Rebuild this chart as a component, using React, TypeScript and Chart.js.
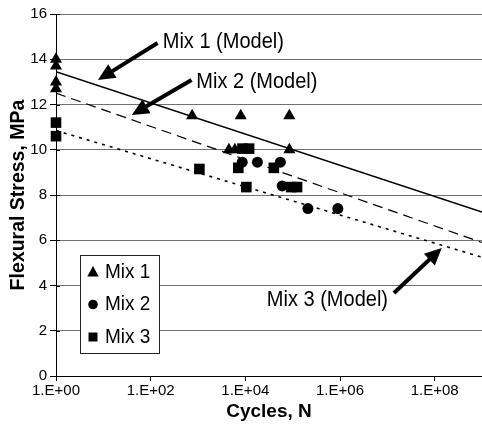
import React, { useEffect, useRef } from "react";
import { Chart, registerables } from "chart.js";

Chart.register(...registerables);

const FONT = '"Liberation Sans", Arial, Helvetica, sans-serif';

// Axis ticks
const xTickValues = [1, 1e2, 1e4, 1e6, 1e8];
const xMin = 1;
const xMax = 1e9;
const yMin = 0;
const yMax = 16;
const yStep = 2;

// Measured data (Cycles N, Flexural stress MPa)
const mix1Cycles = [1, 1, 1, 1, 750, 8000, 85000, 4500, 6000, 85000];
const mix1Stress = [14.0, 13.7, 13.0, 12.7, 11.5, 11.5, 11.5, 10.0, 10.0, 10.0];

const mix2Cycles = [8600, 18000, 55000, 60000, 210000, 900000];
const mix2Stress = [9.45, 9.45, 9.45, 8.4, 7.4, 7.4];

const mix3Cycles = [1, 1, 1070, 7100, 40000, 10500, 93000, 124000, 8700, 12000];
const mix3Stress = [11.2, 10.6, 9.15, 9.2, 9.2, 8.35, 8.35, 8.35, 10.05, 10.05];

// Model curves
const modelCycles = [1, 1e9];
const mix1Model = [13.45, 7.25];
const mix2Model = [12.5, 5.9];
const mix3Model = [10.85, 5.25];

// Annotations (data coordinates)
const annotationLabels = ["Mix 1 (Model)", "Mix 2 (Model)", "Mix 3 (Model)"];
const annotationTextCycles = [180, 920, 28500];
const annotationTextStress = [14.76, 12.99, 3.36];
const arrowTailCycles = [140, 730, 1.38e7];
const arrowTailStress = [14.72, 13.08, 3.67];
const arrowTipCycles = [7.7, 40, 1.41e8];
const arrowTipStress = [13.08, 11.54, 5.66];

const legendLabels = ["Mix 1", "Mix 2", "Mix 3"];

const pts = (xs: number[], ys: number[]) => xs.map((x, i) => ({ x, y: ys[i] }));

function drawSymbol(ctx: CanvasRenderingContext2D, kind: string, x: number, y: number, r: number) {
  ctx.beginPath();
  if (kind === "triangle") {
    ctx.moveTo(x, y - r);
    ctx.lineTo(x + r * 0.95, y + r * 0.75);
    ctx.lineTo(x - r * 0.95, y + r * 0.75);
    ctx.closePath();
  } else if (kind === "circle") {
    ctx.arc(x, y, r * 0.8, 0, Math.PI * 2);
  } else {
    ctx.rect(x - r * 0.75, y - r * 0.75, r * 1.5, r * 1.5);
  }
  ctx.fill();
}

function stretchedText(ctx: CanvasRenderingContext2D, text: string, x: number, y: number, sy: number) {
  ctx.save();
  ctx.translate(x, y);
  ctx.scale(1, sy);
  ctx.fillText(text, 0, 0);
  ctx.restore();
}

const overlayPlugin = {
  id: "overlay",
  afterDatasetsDraw(chart: any) {
    const ctx: CanvasRenderingContext2D = chart.ctx;
    const xs = chart.scales.x;
    const ys = chart.scales.y;
    const area = chart.chartArea;
    ctx.save();

    // inner y ticks (cross ticks)
    ctx.strokeStyle = "#000";
    ctx.lineWidth = 1;
    for (let v = yMin; v <= yMax; v += yStep) {
      const py = Math.round(ys.getPixelForValue(v)) + 0.5;
      ctx.beginPath();
      ctx.moveTo(area.left, py);
      ctx.lineTo(area.left + 4, py);
      ctx.stroke();
    }

    // annotations
    ctx.fillStyle = "#000";
    ctx.strokeStyle = "#000";
    ctx.font = `20px ${FONT}`;
    ctx.textBaseline = "middle";
    ctx.textAlign = "left";
    for (let i = 0; i < annotationLabels.length; i++) {
      const tx = xs.getPixelForValue(annotationTextCycles[i]);
      const ty = ys.getPixelForValue(annotationTextStress[i]);
      stretchedText(ctx, annotationLabels[i], tx, ty, 1.1);
      const x0 = xs.getPixelForValue(arrowTailCycles[i]);
      const y0 = ys.getPixelForValue(arrowTailStress[i]);
      const x1 = xs.getPixelForValue(arrowTipCycles[i]);
      const y1 = ys.getPixelForValue(arrowTipStress[i]);
      const ang = Math.atan2(y1 - y0, x1 - x0);
      const headLen = 17;
      const headW = 8;
      const bx = x1 - headLen * Math.cos(ang);
      const by = y1 - headLen * Math.sin(ang);
      ctx.lineWidth = 4;
      ctx.lineCap = "butt";
      ctx.beginPath();
      ctx.moveTo(x0, y0);
      ctx.lineTo(bx + 2 * Math.cos(ang), by + 2 * Math.sin(ang));
      ctx.stroke();
      ctx.beginPath();
      ctx.moveTo(x1, y1);
      ctx.lineTo(bx + headW * Math.sin(ang), by - headW * Math.cos(ang));
      ctx.lineTo(bx - headW * Math.sin(ang), by + headW * Math.cos(ang));
      ctx.closePath();
      ctx.fill();
    }

    // legend box
    const lx = area.left + 24;
    const ly = area.top + 241;
    const lw = 79;
    const lh = 98;
    ctx.fillStyle = "#fff";
    ctx.fillRect(lx, ly, lw, lh);
    ctx.lineWidth = 1;
    ctx.strokeStyle = "#222";
    ctx.strokeRect(Math.round(lx) + 0.5, Math.round(ly) + 0.5, lw, lh);
    const kinds = ["triangle", "circle", "rect"];
    ctx.font = `19px ${FONT}`;
    for (let i = 0; i < legendLabels.length; i++) {
      const cy = ly + 17 + i * 32.5;
      ctx.fillStyle = "#000";
      drawSymbol(ctx, kinds[i], lx + 13, cy, 6);
      stretchedText(ctx, legendLabels[i], lx + 25, cy, 1.1);
    }
    ctx.restore();
  },
};

export default function App() {
  const ref = useRef<HTMLCanvasElement | null>(null);
  useEffect(() => {
    if (!ref.current) return;
    const chart = new Chart(ref.current, {
      type: "scatter",
      data: {
        datasets: [
          {
            label: "Mix 1 (Model)",
            data: pts(modelCycles, mix1Model),
            showLine: true,
            borderColor: "#000",
            borderWidth: 1.6,
            pointRadius: 0,
            order: 5,
          },
          {
            label: "Mix 2 (Model)",
            data: pts(modelCycles, mix2Model),
            showLine: true,
            borderColor: "#000",
            borderWidth: 1.2,
            borderDash: [10, 6],
            pointRadius: 0,
            order: 5,
          },
          {
            label: "Mix 3 (Model)",
            data: pts(modelCycles, mix3Model),
            showLine: true,
            borderColor: "#000",
            borderWidth: 1.6,
            borderDash: [3, 5],
            pointRadius: 0,
            order: 5,
          },
          {
            label: "Mix 1",
            data: pts(mix1Cycles, mix1Stress),
            pointStyle: "triangle",
            pointRadius: 7,
            backgroundColor: "#000",
            borderColor: "#000",
            borderWidth: 0,
            clip: false,
            order: 1,
          },
          {
            label: "Mix 2",
            data: pts(mix2Cycles, mix2Stress),
            pointStyle: "circle",
            pointRadius: 5.5,
            backgroundColor: "#000",
            borderColor: "#000",
            borderWidth: 0,
            clip: false,
            order: 1,
          },
          {
            label: "Mix 3",
            data: pts(mix3Cycles, mix3Stress),
            pointStyle: "rect",
            pointRadius: 7.5,
            backgroundColor: "#000",
            borderColor: "#000",
            borderWidth: 0,
            clip: false,
            order: 1,
          },
        ],
      },
      options: {
        animation: false,
        responsive: false,
        devicePixelRatio: 1,
        layout: { autoPadding: false, padding: { top: 14, right: -2, left: 0, bottom: 0 } },
        plugins: { legend: { display: false }, tooltip: { enabled: false } },
        scales: {
          x: {
            type: "logarithmic",
            min: xMin,
            max: xMax,
            afterBuildTicks: (s: any) => {
              s.ticks = xTickValues.map((v) => ({ value: v }));
            },
            afterFit: (s: any) => {
              s.height = 49;
              s.paddingLeft = 0;
              s.paddingRight = 0;
            },
            ticks: {
              autoSkip: false,
              maxRotation: 0,
              color: "#000",
              padding: 1,
              font: { family: FONT, size: 15 },
              callback: (v: any) =>
                "1.E+" + String(Math.round(Math.log10(Number(v)))).padStart(2, "0"),
            },
            grid: { drawOnChartArea: false, drawTicks: true, tickLength: 5, color: "#000" },
            border: { color: "#000", width: 1 },
            title: {
              display: true,
              text: "Cycles, N",
              color: "#000",
              font: { family: FONT, size: 19, weight: "bold" },
              padding: { top: 0, bottom: 2 },
            },
          },
          y: {
            type: "linear",
            min: yMin,
            max: yMax,
            afterFit: (s: any) => {
              s.width = 56;
              s.paddingTop = 0;
              s.paddingBottom = 0;
            },
            ticks: {
              stepSize: yStep,
              color: "#000",
              padding: 3,
              font: { family: FONT, size: 15 },
            },
            grid: { color: "#707070", tickColor: "#000", tickLength: 6, lineWidth: 1 },
            border: { color: "#000", width: 1 },
            title: {
              display: true,
              text: "Flexural Stress, MPa",
              color: "#000",
              font: { family: FONT, size: 19.5, weight: "bold" },
              padding: { top: 7, bottom: 5 },
            },
          },
        },
      },
      plugins: [overlayPlugin],
    } as any);
    return () => chart.destroy();
  }, []);
  return (
    <div style={{ position: "absolute", left: 0, top: 0, width: 482, height: 425, background: "#fff" }}>
      <canvas ref={ref} width={482} height={425} style={{ display: "block" }} />
    </div>
  );
}
